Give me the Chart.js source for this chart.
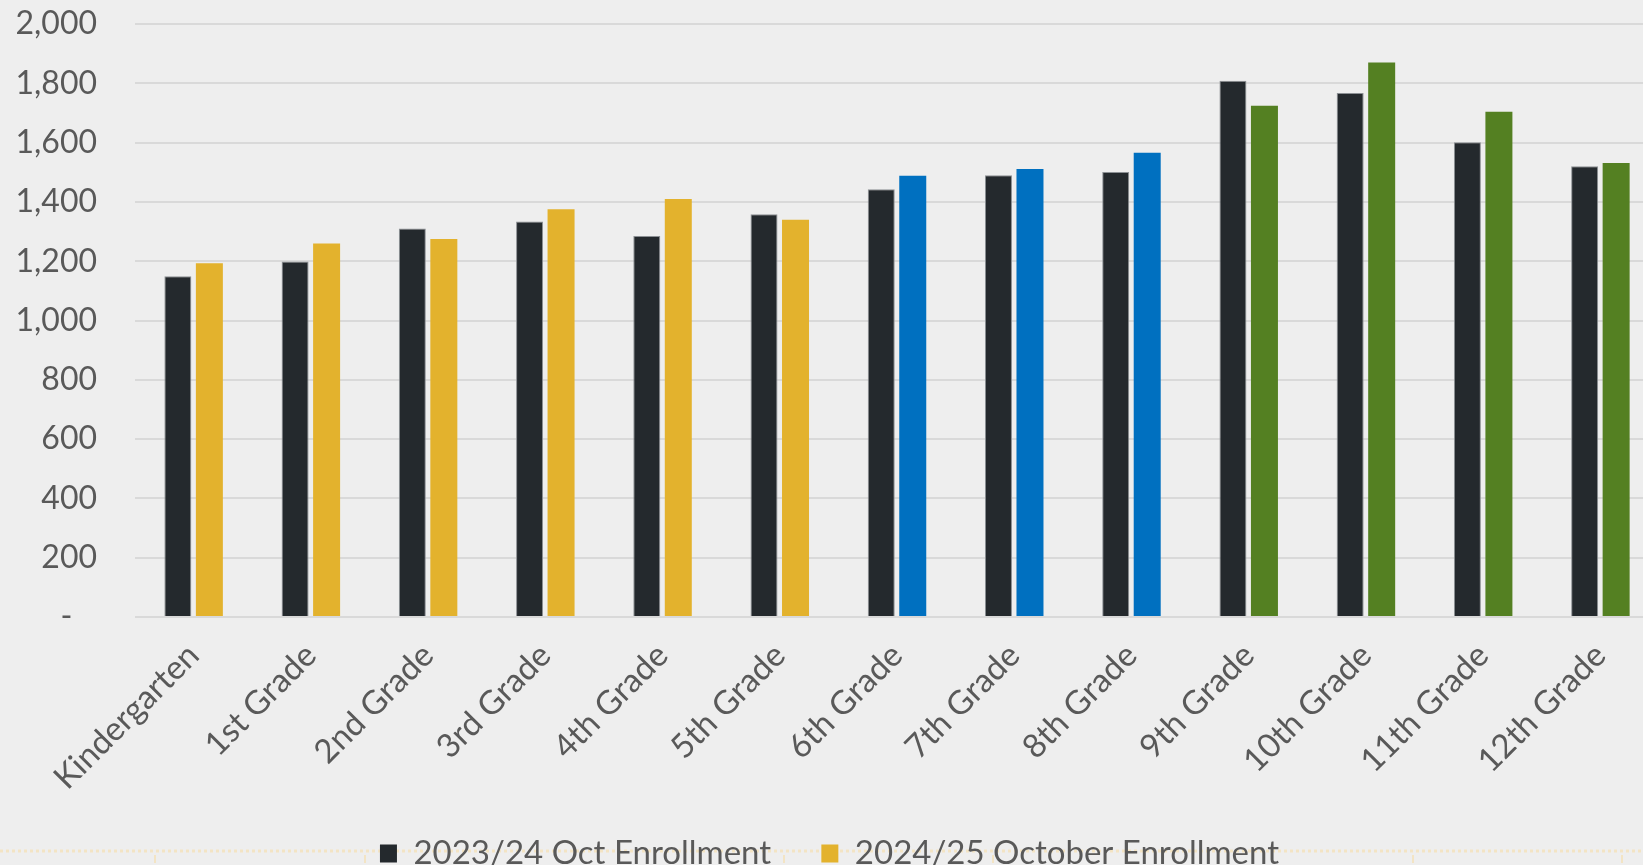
<!DOCTYPE html>
<html>
<head>
<meta charset="utf-8">
<title>Enrollment by Grade</title>
<script src="https://cdn.jsdelivr.net/npm/chart.js@4.4.1/dist/chart.umd.min.js"></script>
<style>
    html,body{
        margin:0;
        padding:0;
        background:#eeeeee;
        overflow:hidden;
    }
    #wrap{
        position:relative;
        width:1643px;
        height:865px;
        overflow:hidden;
    }
    #enrollChart{
        display:block;
    }
</style>
</head>
<body>

<div id="wrap">
    <canvas id="enrollChart" width="1660" height="865"></canvas>
</div>

<script>

// ======================================================
// DATA
// ======================================================

const grades = [
    "Kindergarten","1st Grade","2nd Grade","3rd Grade","4th Grade",
    "5th Grade","6th Grade","7th Grade","8th Grade","9th Grade",
    "10th Grade","11th Grade","12th Grade"
];

const enroll2324 = [1149,1199,1310,1334,1285,1358,1443,1490,1501,1809,1767,1601,1520];

const enroll2425 = [1193,1260,1275,1375,1410,1340,1488,1511,1566,1724,1870,1704,1531];

const seriesNames = ["2023/24 Oct Enrollment","2024/25 October Enrollment"];

// elementary / middle / high school bands
const bandColors = [
    "#E3B22D","#E3B22D","#E3B22D","#E3B22D","#E3B22D","#E3B22D",
    "#0070C0","#0070C0","#0070C0",
    "#548022","#548022","#548022","#548022"
];

const yMin = 0;
const yMax = 2000;
const yStep = 200;
const zeroLabel = "-   ";

// ======================================================
// STYLE
// ======================================================

const FONT = "Lato, 'Open Sans', sans-serif";
const TEXT = "#595959";
const GRID = "#d9d9d9";
const DARK = "#24292d";

Chart.defaults.font.family = FONT;
Chart.defaults.color = TEXT;

// background + dotted rule under the legend
const backdrop = {

    id:"backdrop",

    beforeDraw(chart){

        const ctx = chart.ctx;

        ctx.save();

        ctx.fillStyle = "#eeeeee";
        ctx.fillRect(0,0,chart.width,chart.height);

        ctx.strokeStyle = "#f3e4c4";
        ctx.lineWidth = 3;
        ctx.setLineDash([3,3]);
        ctx.beginPath();
        ctx.moveTo(0,851);
        ctx.lineTo(chart.width,851);
        ctx.stroke();

        ctx.setLineDash([]);
        ctx.lineWidth = 2;
        [155,365,784,993,1413,1622].forEach(x=>{
            ctx.beginPath();
            ctx.moveTo(x,855);
            ctx.lineTo(x,863);
            ctx.stroke();
        });

        ctx.restore();

    }

};

// ======================================================
// CHART
// ======================================================

new Chart(document.getElementById("enrollChart"),{

    type:"bar",

    plugins:[backdrop],

    data:{

        labels:grades,

        datasets:[
            {
                label:seriesNames[0],
                data:enroll2324,
                backgroundColor:DARK,
                borderColor:"#8c9094",
                borderWidth:1
            },
            {
                label:seriesNames[1],
                data:enroll2425,
                backgroundColor:ctx=>
                    ctx.dataIndex === undefined ? bandColors[0] : bandColors[ctx.dataIndex],
                borderWidth:0
            }
        ]

    },

    options:{

        responsive:false,
        animation:false,

        categoryPercentage:0.5375,
        barPercentage:0.857,

        layout:{
            padding:{ top:24, right:1, bottom:-15, left:0 }
        },

        plugins:{

            tooltip:{ enabled:false },

            legend:{

                position:"bottom",

                labels:{

                    boxWidth:17,
                    boxHeight:18,
                    padding:8,
                    color:TEXT,
                    font:{ size:33 },

                    generateLabels:chart=>{
                        const items =
                            Chart.defaults.plugins.legend.labels.generateLabels(chart);
                        items.forEach((it,i)=>{
                            it.lineWidth = 0;
                            if(i === 0) it.text = it.text + "     ";
                        });
                        return items;
                    }

                }

            }

        },

        scales:{

            x:{

                grid:{ display:false },

                border:{ display:false },

                ticks:{
                    color:TEXT,
                    font:{ size:33 },
                    minRotation:45,
                    maxRotation:45,
                    padding:11,
                    autoSkip:false
                },

                afterFit:scale=>{
                    scale.height = 212;
                }

            },

            y:{

                min:yMin,
                max:yMax,

                grid:{
                    color:GRID,
                    lineWidth:2,
                    drawTicks:false
                },

                border:{ display:false },

                ticks:{
                    stepSize:yStep,
                    color:TEXT,
                    font:{ size:32 },
                    padding:38,
                    callback:value=>
                        value === 0 ? zeroLabel : Number(value).toLocaleString("en-US")
                },

                afterFit:scale=>{
                    scale.width = 135;
                    scale.paddingTop = 0;
                    scale.paddingBottom = 0;
                }

            }

        }

    }

});

</script>

</body>
</html>
